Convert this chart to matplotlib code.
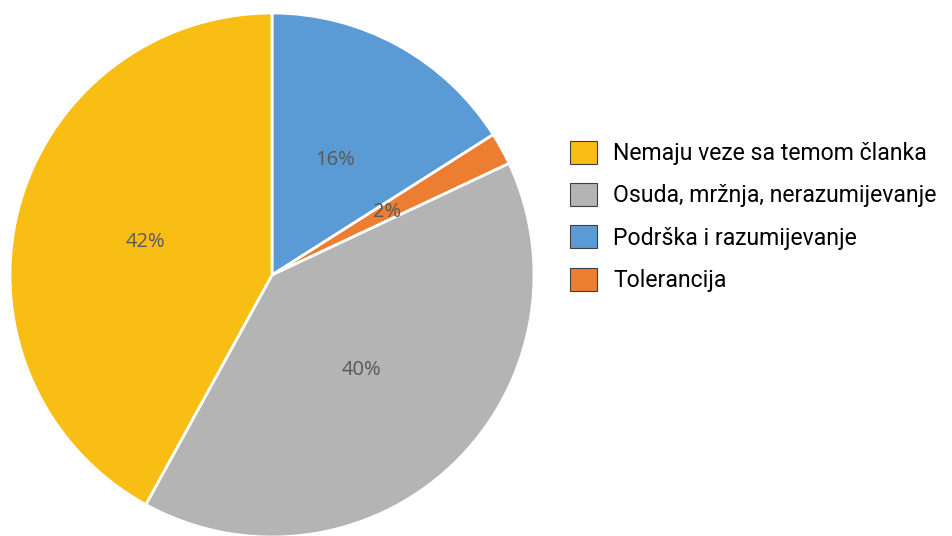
import matplotlib.pyplot as plt
from matplotlib.patches import Patch

# slice order as drawn, clockwise from 12 o'clock
pie_labels = ['Podrška i razumijevanje', 'Tolerancija',
              'Osuda, mržnja, nerazumijevanje', 'Nemaju veze sa temom članka']
pie_values = [16, 2, 40, 42]
pie_colors = ['#5B9BD5', '#ED7D31', '#B4B4B4', '#F9BE14']

# legend order
legend_labels = ['Nemaju veze sa temom članka', 'Osuda, mržnja, nerazumijevanje',
                 'Podrška i razumijevanje', 'Tolerancija']

fig = plt.figure(figsize=(9.52, 5.36), dpi=100)
ax = fig.add_axes([10 / 952, -1 / 536, 524 / 952, 524 / 536])

ax.pie(pie_values, colors=pie_colors, startangle=90, counterclock=False,
       autopct='%1.0f%%', pctdistance=0.5, radius=1.0,
       wedgeprops=dict(edgecolor='white', linewidth=2),
       textprops=dict(color='#595959', fontsize=14.5, family='Open Sans'))
ax.set_xlim(-1, 1)
ax.set_ylim(-1, 1)
ax.set_aspect('equal')
ax.axis('off')

color_of = dict(zip(pie_labels, pie_colors))
handles = [Patch(facecolor=color_of[l], edgecolor='#404040', linewidth=0.8)
           for l in legend_labels]
fig.legend(handles, legend_labels, loc='upper left',
           bbox_to_anchor=(570 / 952, 1 - 141 / 536), frameon=False,
           prop=dict(family='Roboto', size=16.6),
           handlelength=1.15, handleheight=1.15, handletextpad=0.72,
           labelspacing=0.78, borderpad=0, borderaxespad=0)

fig.savefig('out.png', dpi=100, facecolor='white')
